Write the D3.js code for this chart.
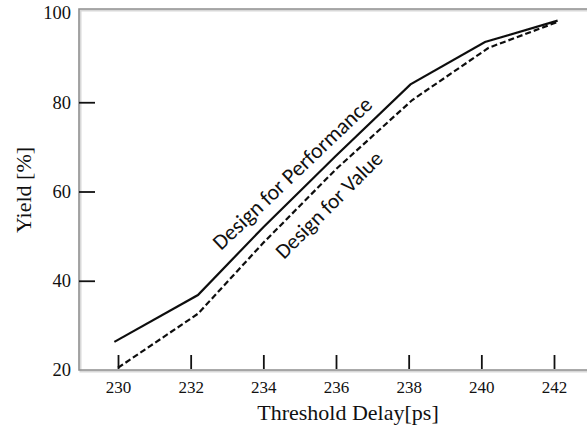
<!DOCTYPE html>
<html>
<head>
<meta charset="utf-8">
<script src="https://cdn.jsdelivr.net/npm/d3@7"></script>
<style>
  html, body { margin: 0; padding: 0; background: #fff; }
  svg { display: block; }
</style>
</head>
<body>
<svg id="chart" width="587" height="429"></svg>
<script>
// Threshold delay (ps) of each measured point
const perfDelay = [229.9, 232.2, 234, 236, 238.05, 240.1, 242.1];
const valueDelay = [230, 232.2, 234, 236, 238.1, 240.2, 242.1];
// Yield (%) for each design style
const perfYield = [26.3, 36.8, 52, 68, 84, 93.5, 98.3];
const valueYield = [20.5, 32.6, 48.5, 65, 80.5, 92.2, 98];
const xTicks = [230, 232, 234, 236, 238, 240, 242];
const yTicks = [20, 40, 60, 80, 100];

const svg = d3.select("#chart");
const W = 587;
const plotLeft = 79, plotTop = 9, plotBottom = 370;
const serif = "'Liberation Serif', 'Times New Roman', serif";

const x = d3.scaleLinear().domain([230, 242]).range([118, 554]);
const y = d3.scaleLinear().domain([20, 100]).range([plotBottom, 13]);

const defs = svg.append("defs");
defs.append("filter").attr("id", "soft")
  .append("feGaussianBlur").attr("stdDeviation", 0.45);

// frame: left, top and bottom edges with a light drop shadow
const frame = svg.append("g");
const framePath = `M${W},${plotTop} H${plotLeft} V${plotBottom} H${W}`;
frame.append("path").attr("d", framePath)
  .attr("transform", "translate(1.5,1.5)")
  .attr("fill", "none").attr("stroke", "#d8d8d8").attr("stroke-width", 2);
frame.append("path").attr("d", framePath)
  .attr("fill", "none").attr("stroke", "#8f8f8f").attr("stroke-width", 1.6);

// x axis with inward ticks
const xAxis = svg.append("g")
  .attr("transform", `translate(0,${plotBottom})`)
  .call(d3.axisBottom(x).tickValues(xTicks).tickSizeInner(-14).tickSizeOuter(0).tickPadding(11));
xAxis.select(".domain").remove();
xAxis.selectAll(".tick line").attr("stroke", "#111").attr("stroke-width", 1.8)
  .attr("transform", "translate(0,-1)");
xAxis.selectAll(".tick text")
  .attr("font-family", serif).attr("font-size", 17).attr("fill", "#111");

// y axis with inward ticks
const yAxis = svg.append("g")
  .attr("transform", `translate(${plotLeft},0)`)
  .call(d3.axisLeft(y).tickValues(yTicks).tickSizeInner(-16).tickSizeOuter(0).tickPadding(8));
yAxis.select(".domain").remove();
yAxis.selectAll(".tick line").attr("stroke", "#111").attr("stroke-width", 1.8)
  .attr("x1", 0);
yAxis.selectAll(".tick").filter(d => d === 20 || d === 100).select("line").remove();
yAxis.selectAll(".tick text")
  .attr("font-family", serif).attr("font-size", 18.5).attr("fill", "#111");

// axis titles
svg.append("text")
  .attr("x", 348).attr("y", 420)
  .attr("text-anchor", "middle")
  .attr("font-family", serif).attr("font-size", 22).attr("fill", "#111")
  .text("Threshold Delay[ps]");
svg.append("text")
  .attr("transform", "translate(31,190) rotate(-90)")
  .attr("text-anchor", "middle")
  .attr("font-family", serif).attr("font-size", 22).attr("fill", "#111")
  .text("Yield [%]");

// yield curves
const line = d3.line().x(d => x(d[0])).y(d => y(d[1]));
const curves = svg.append("g").attr("filter", "url(#soft)");
curves.append("path")
  .datum(perfDelay.map((d, i) => [d, perfYield[i]]))
  .attr("d", line)
  .attr("fill", "none").attr("stroke", "#111").attr("stroke-width", 2.2);
curves.append("path")
  .datum(valueDelay.map((d, i) => [d, valueYield[i]]))
  .attr("d", line)
  .attr("fill", "none").attr("stroke", "#111").attr("stroke-width", 2.2)
  .attr("stroke-dasharray", "6,3");

// rotated curve annotations
const labelFont = "Carlito, Lato, 'Open Sans', sans-serif";
svg.append("text")
  .attr("transform", "translate(221,251) rotate(-43.5)")
  .attr("font-family", labelFont).attr("font-size", 22).attr("fill", "#111")
  .text("Design for Performance");
svg.append("text")
  .attr("transform", "translate(284,260) rotate(-45)")
  .attr("font-family", labelFont).attr("font-size", 21.5).attr("fill", "#111")
  .text("Design for Value");
</script>
</body>
</html>
